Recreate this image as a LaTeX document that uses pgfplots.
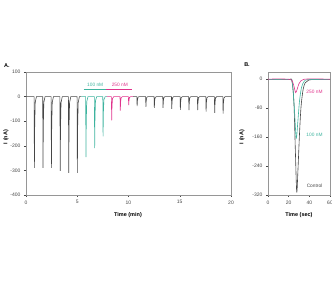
\documentclass[border=0pt]{standalone}
\usepackage{pgfplots}
\pgfplotsset{compat=1.18}
\usepackage{fontspec}
\setmainfont{Liberation Sans}
\definecolor{tealc}{RGB}{61,179,158}
\definecolor{pinkc}{RGB}{224,51,140}
\definecolor{trace}{RGB}{70,70,70}
\definecolor{boxc}{RGB}{150,150,150}
\begin{document}
\begin{tikzpicture}[x=1pt,y=1pt]
\path[use as bounding box] (0pt,0pt) rectangle (332pt,284pt);
\pgfplotsset{
  every axis/.append style={
    scale only axis,
    axis line style={boxc, line width=0.5pt},
    tick style={trace, line width=0.4pt},
    tick align=outside, major tick length=2pt,
    xtick pos=bottom, ytick pos=left,
    ticklabel style={font=\fontsize{5}{6}\selectfont, text=trace},
    /pgf/number format/assume math mode=true,
    clip=true,
  }
}
\begin{axis}[at={(26pt,89pt)}, anchor=south west, width=205pt, height=123pt,
  xmin=0, xmax=20, ymin=-400, ymax=100,
  xtick={0,5,10,15,20}, ytick={-400,-300,-200,-100,0,100}]
\addplot[trace, line width=0.6pt] coordinates {
(0,0)(0.79,0)(0.82,-290)(0.85,-116)(0.90,-23)(1.02,0)
(1.63,0)(1.66,-290)(1.69,-116)(1.74,-23)(1.86,0)
(2.45,0)(2.48,-290)(2.51,-116)(2.56,-23)(2.68,0)
(3.31,0)(3.34,-302)(3.37,-121)(3.42,-24)(3.54,0)
(4.14,0)(4.17,-310)(4.20,-124)(4.25,-25)(4.37,0)
(4.98,0)(5.01,-310)(5.04,-124)(5.09,-25)(5.21,0)(5.4,0)};
\addplot[tealc, line width=0.6pt] coordinates {
(5.4,0)(5.82,0)(5.85,-246)(5.88,-98)(5.93,-20)(6.05,0)
(6.67,0)(6.70,-209)(6.73,-84)(6.78,-17)(6.90,0)
(7.49,0)(7.52,-162)(7.55,-65)(7.60,-13)(7.72,0)(7.9,0)};
\addplot[pinkc, line width=0.6pt] coordinates {
(7.9,0)(8.33,0)(8.36,-97)(8.39,-39)(8.44,-8)(8.56,0)
(9.17,0)(9.20,-57)(9.23,-23)(9.28,-5)(9.40,0)
(9.99,0)(10.02,-35)(10.05,-14)(10.10,-3)(10.22,0)(10.45,0)};
\addplot[trace, line width=0.6pt] coordinates {
(10.45,0)(10.81,0)(10.84,-39)(10.87,-16)(10.92,-3)(11.04,0)
(11.67,0)(11.70,-42)(11.73,-17)(11.78,-3)(11.90,0)
(12.49,0)(12.52,-46)(12.55,-18)(12.60,-4)(12.72,0)
(13.34,0)(13.37,-46)(13.40,-18)(13.45,-4)(13.57,0)
(14.19,0)(14.22,-50)(14.25,-20)(14.30,-4)(14.42,0)
(15.03,0)(15.06,-54)(15.09,-22)(15.14,-4)(15.26,0)
(15.87,0)(15.90,-55)(15.93,-22)(15.98,-4)(16.10,0)
(16.72,0)(16.75,-55)(16.78,-22)(16.83,-4)(16.95,0)
(17.54,0)(17.57,-61)(17.60,-24)(17.65,-5)(17.77,0)
(18.38,0)(18.41,-66)(18.44,-26)(18.49,-5)(18.61,0)
(19.20,0)(19.23,-69)(19.26,-28)(19.31,-6)(19.43,0)(20,0)};
\addplot[tealc, line width=0.9pt] coordinates {(5.63,30)(7.8,30)};
\addplot[pinkc, line width=0.9pt] coordinates {(7.84,30)(10.37,30)};
\node[tealc, font=\fontsize{4.8}{5}\selectfont] at (axis cs:6.75,48) {100 nM};
\node[pinkc, font=\fontsize{4.8}{5}\selectfont] at (axis cs:9.15,48) {250 nM};
\end{axis}
\begin{axis}[at={(268pt,89pt)}, anchor=south west, width=62pt, height=123pt,
  xmin=0, xmax=60, ymin=-320, ymax=20,
  xtick={0,20,40,60}, ytick={-320,-240,-160,-80,0}]
\addplot[trace, line width=0.6pt, smooth] coordinates {
(0,-1)(20,-1)(23,-3)(25,-60)(26.5,-200)(27.8,-312)(29,-250)(30.5,-150)(32,-75)(34,-28)(36,-10)(39,-3)(43,-1)(60,-1)};
\addplot[tealc, line width=0.6pt, smooth] coordinates {
(0,-1)(21,-1)(23.5,-10)(25.5,-80)(27.3,-163)(28.8,-120)(30.5,-60)(32.5,-22)(35,-6)(39,-1)(60,-1)};
\addplot[pinkc, line width=0.6pt, smooth] coordinates {
(0,0)(10,1)(20,0)(23,-2)(25,-18)(26.8,-37)(28.5,-25)(30,-12)(32,-4)(35,0)(45,1)(60,0)};
\node[pinkc, font=\fontsize{4.8}{5}\selectfont] at (axis cs:45,-35) {250 nM};
\node[tealc, font=\fontsize{4.8}{5}\selectfont] at (axis cs:45,-154) {100 nM};
\node[trace, font=\fontsize{4.8}{5}\selectfont] at (axis cs:45,-294) {Control};
\end{axis}
\node[font=\bfseries\fontsize{5.5}{6}\selectfont] at (128pt,69pt) {Time (min)};
\node[font=\bfseries\fontsize{5.5}{6}\selectfont] at (299pt,69pt) {Time (sec)};
\node[font=\bfseries\fontsize{5.5}{6}\selectfont, rotate=90] at (6pt,147pt) {I (nA)};
\node[font=\bfseries\fontsize{5.5}{6}\selectfont, rotate=90] at (242pt,147pt) {I (nA)};
\node[font=\bfseries\fontsize{5.5}{6}\selectfont] at (7pt,218pt) {A.};
\node[font=\bfseries\fontsize{5.5}{6}\selectfont] at (247pt,219pt) {B.};
\end{tikzpicture}
\end{document}
